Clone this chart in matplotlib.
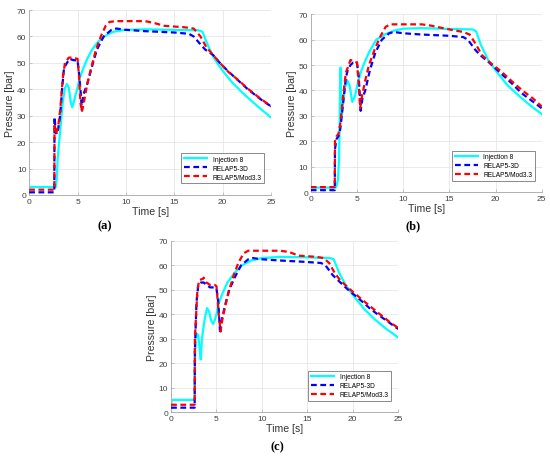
import numpy as np
import matplotlib
matplotlib.use("Agg")
from matplotlib import pyplot as plt

plt.rcParams.update({
    "font.family": ["Liberation Sans", "DejaVu Sans"],
    "font.size": 6,
})

## panel (a)
a_inj_t = [0, 2.75, 2.85, 2.95, 3.1, 3.3, 3.5, 3.7, 3.9, 4.1, 4.3, 4.45, 4.6, 4.8, 5.0, 5.2, 5.6, 6.0, 6.5, 7.0,
           7.5, 8.0, 8.5, 9.0, 10, 12, 15, 17.5, 17.9, 18.2, 18.6, 19.0, 19.5, 20, 20.5, 21, 22, 23, 24, 25]
a_inj_p = [3, 3, 6, 14, 20, 28, 36, 40.5, 42, 40.5, 35, 33.2, 35, 38, 40.5, 44, 48, 51.5, 55, 57.5,
           59.3, 60.5, 61.5, 62, 62.5, 62.7, 62.5, 62.3, 61.8, 59, 55.5, 52.5, 49.5, 47, 44.7, 42.5, 38.8, 35.5, 32.3, 29.3]
a_r3d_t = [0, 2.6, 2.62, 2.75, 2.85, 3.0, 3.2, 3.4, 3.6, 3.9, 4.2, 4.6, 5.0, 5.15, 5.3, 5.45, 5.6, 6.0, 6.6, 7.0,
           7.7, 8.5, 9.0, 10, 12, 15, 16.5, 17.0, 17.7, 18.2, 19.0, 19.7, 20.5, 21.7, 22.6, 24, 25]
a_r3d_p = [1, 1, 29.5, 24, 23, 25, 30, 40, 48, 50, 51.5, 51, 51, 46, 40, 32, 38, 42, 50, 55,
           60, 62.5, 63, 62.5, 62, 61.5, 61, 60, 57, 55, 53, 50, 47, 43, 40, 36, 33.5]
a_r53_t = [0, 2.6, 2.62, 2.75, 2.85, 3.0, 3.2, 3.5, 3.7, 4.1, 4.5, 5.0, 5.15, 5.3, 5.45, 5.7, 6.0, 6.4, 6.9, 7.4,
           7.9, 8.3, 9.0, 12, 13, 14, 16, 17, 17.7, 18.3, 19.0, 19.7, 20.6, 21.6, 22.5, 23.7, 25]
a_r53_p = [2, 2, 27, 23, 24, 26, 32, 45, 50, 52, 52, 51.5, 45, 35, 31.5, 36, 42, 48, 55, 60,
           64, 65.5, 65.8, 65.8, 65, 64, 63.5, 63, 60, 56, 53, 50, 46.5, 43.5, 40.5, 37, 33.5]

## panel (b)
b_inj_t = [0, 2.7, 2.8, 2.95, 3.05, 3.1, 3.22, 3.26, 3.35, 3.5, 3.7, 3.95, 4.2, 4.5, 4.8, 5.1, 5.4, 5.7, 6.3, 7.1,
           8.0, 9.0, 10, 12, 15, 17.5, 17.9, 18.4, 19.2, 20.2, 21.3, 22.5, 23.8, 25]
b_inj_p = [1.8, 1.8, 2.6, 5, 12, 21, 49, 28, 30, 35, 41, 44, 42, 35.5, 38, 43, 47, 50, 55, 60,
           62, 63.5, 64.3, 64.5, 64.2, 64, 63.3, 58, 52, 47, 42, 38, 34, 30.7]
b_r3d_t = [0, 2.6, 2.62, 2.8, 3.0, 3.2, 3.5, 3.8, 4.0, 4.3, 4.6, 5.0, 5.2, 5.4, 5.6, 5.9, 6.4, 7.0, 7.7, 8.5,
           9.0, 10, 12, 15, 16.5, 17, 17.8, 18.3, 19.3, 20.5, 21.7, 22.8, 23.9, 25]
b_r3d_p = [0.8, 0.8, 17, 21, 22, 25, 35, 45, 48, 50, 51, 51, 45, 32, 37, 40, 48, 55, 60, 62.5,
           63, 62.5, 62, 61.5, 61, 60, 56, 54, 51, 47, 43, 39, 36, 33]
b_r53_t = [0, 2.6, 2.62, 2.8, 3.0, 3.2, 3.5, 3.8, 4.1, 4.3, 4.6, 5.0, 5.2, 5.35, 5.55, 5.9, 6.3, 6.9, 7.5, 8.1,
           8.6, 12, 13, 15, 16.5, 17.2, 17.9, 18.5, 19.4, 20.6, 21.8, 22.9, 24, 25]
b_r53_p = [2, 2, 20, 22, 23, 27, 38, 47, 50, 52, 51.5, 51, 42, 33, 38, 44, 50, 56, 61, 65,
           66, 66, 65.5, 64, 63, 62, 58, 54, 51, 47.5, 43.5, 40, 37, 33.7]

## panel (c)
c_inj_t = [0, 0.05, 2.6, 2.62, 2.7, 2.9, 3.0, 3.15, 3.27, 3.4, 3.7, 3.96, 4.2, 4.4, 4.63, 4.8, 5.0, 5.2, 5.6, 6.2,
           7.0, 7.8, 8.8, 10, 12, 15, 17.5, 17.9, 18.5, 19.2, 20.2, 21.3, 22.4, 23.7, 25]
c_inj_p = [0, 5, 5, 18, 30, 32, 31, 26, 21.5, 30, 38, 42.5, 41, 37.5, 36, 37.5, 40, 44, 48, 53,
           57, 60, 62, 63, 63.5, 63.3, 63, 62.5, 57, 52, 47, 42, 38, 34, 30.5]
c_r3d_t = [0, 2.6, 2.62, 2.8, 3.0, 3.3, 3.6, 3.9, 4.3, 4.7, 5.0, 5.2, 5.4, 5.6, 5.9, 6.4, 7.0, 7.7, 8.5, 9.0,
           10, 12, 14.5, 16.5, 17, 17.8, 18.5, 19.5, 20.8, 22, 23.3, 25]
c_r3d_p = [1.8, 1.8, 25, 45, 52, 53, 53, 52, 51, 51, 50.5, 45, 32, 38, 43, 50, 55, 60, 62.5, 63,
           62.5, 62, 61.5, 61, 60, 56, 53.5, 50, 46, 42, 38.5, 34]
c_r53_t = [0, 2.6, 2.62, 2.9, 3.1, 3.5, 3.6, 3.9, 4.3, 4.8, 5.0, 5.25, 5.45, 5.65, 6.0, 6.4, 6.9, 7.4, 8.0, 8.5,
           12, 13, 14, 16, 16.8, 17.4, 18, 18.6, 19.6, 20.7, 22, 23, 24, 25]
c_r53_p = [3, 3, 30, 50, 54, 54.5, 55, 53, 52, 52, 51.5, 40, 33, 38, 44, 50, 56, 61, 65, 66,
           66, 65.5, 64, 63.5, 63, 61, 57, 54, 50.5, 47, 43, 40, 37, 34.4]

panels = [
    ("(a)", [0.053, 0.574, 0.44, 0.402], a_inj_t, a_inj_p, a_r3d_t, a_r3d_p, a_r53_t, a_r53_p),
    ("(b)", [0.565, 0.580, 0.42, 0.387], b_inj_t, b_inj_p, b_r3d_t, b_r3d_p, b_r53_t, b_r53_p),
    ("(c)", [0.311, 0.102, 0.413, 0.372], c_inj_t, c_inj_p, c_r3d_t, c_r3d_p, c_r53_t, c_r53_p),
]
label_pos = {"(a)": (0.19, 0.508), "(b)": (0.751, 0.508), "(c)": (0.504, 0.028)}

fig = plt.figure(figsize=(5.5, 4.6), dpi=100)

for tag, rect, it, ip, rt, rp, mt, mp in panels:
    ax = fig.add_axes(rect)
    ax.plot(it, ip, color="cyan", lw=1.6, label="Injection 8", zorder=2)
    ax.plot(rt, rp, color="blue", lw=1.6, ls=(0, (2.6, 1.6)), label="RELAP5-3D", zorder=3)
    ax.plot(mt, mp, color="red", lw=1.6, ls=(0, (2.6, 1.6)), label="RELAP5/Mod3.3", zorder=4)

    ax.set_xlim(0, 25)
    ax.set_ylim(0, 70)
    ax.set_xticks(np.arange(0, 26, 5))
    ax.set_yticks(np.arange(0, 71, 10))
    ax.grid(True, color="#e6e6e6", lw=0.6)
    ax.set_axisbelow(True)
    for s in ["top", "right"]:
        ax.spines[s].set_visible(False)
    for s in ["left", "bottom"]:
        ax.spines[s].set_color("#b0b0b0")
        ax.spines[s].set_linewidth(0.7)
    ax.tick_params(direction="in", length=2, width=0.5, colors="#b0b0b0",
                   labelcolor="#404040", labelsize=6, pad=2)
    ax.set_xlabel("Time [s]", fontsize=7.6, color="#333333", labelpad=1)
    ax.set_ylabel("Pressure [bar]", fontsize=7.6, color="#333333", labelpad=1)
    leg = ax.legend(loc="lower right", fontsize=4.8, frameon=True, fancybox=False,
                    handlelength=3.5, borderpad=0.4, labelspacing=0.3,
                    bbox_to_anchor=(0.985, 0.045))
    leg.get_frame().set_edgecolor("#555555")
    leg.get_frame().set_linewidth(0.6)

    fig.text(*label_pos[tag], tag, ha="center", va="center", fontsize=9,
             family=["Liberation Serif", "DejaVu Serif"], fontweight="bold")

fig.savefig("out.png", dpi=100)
